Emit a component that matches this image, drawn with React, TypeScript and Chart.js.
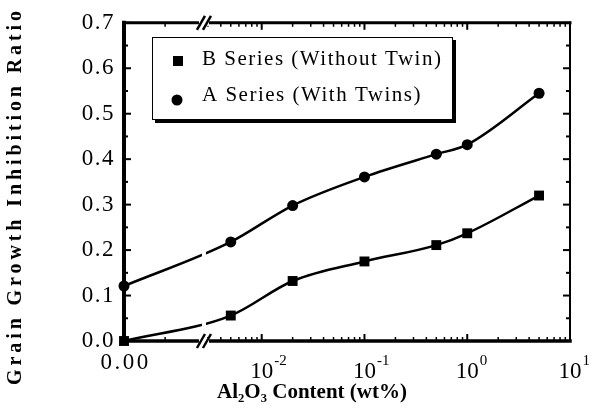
import React, { useEffect, useRef } from 'react';
import { Chart, registerables } from 'chart.js';

Chart.register(...registerables);

// ---- data ----
const CONTENT_WT = [0, 0.005, 0.02, 0.1, 0.5, 1, 5];
const SERIES_B = [0.0, 0.056, 0.132, 0.175, 0.211, 0.237, 0.32];
const SERIES_A = [0.121, 0.218, 0.298, 0.361, 0.411, 0.432, 0.545];
const SERIES_B_LABEL = 'B Series (Without Twin)';
const SERIES_A_LABEL = 'A Series (With Twins)';

// broken x axis: a "0.00" segment, then a log10 axis (positions in decades)
const ZERO_POS = -3.34;
const X_MAX_POS = 1;
const BREAK_POS = -2.562;
const ZERO_SEGMENT_MINOR = [-2.94];
const X_TICK_POS = [ZERO_POS, -2, -1, 0, 1];
const X_TICK_BASES = ['0.00', '10', '10', '10', '10'];
const X_TICK_EXPONENTS = ['', '-2', '-1', '0', '1'];
const LOG_DECADES = [-3, -2, -1, 0];

const Y_MIN = 0;
const Y_MAX = 0.7;
const Y_STEP = 0.1;

const X_TITLE = 'Al\u2082O\u2083 Content (wt%)';
const Y_TITLE = 'Grain Growth Inhibition Ratio';

const SERIF = "'Liberation Serif', 'Times New Roman', 'DejaVu Serif', serif";

const toPos = (wt: number) => (wt === 0 ? ZERO_POS : Math.log10(wt));

function line(ctx: any, x1: number, y1: number, x2: number, y2: number, w: number) {
  ctx.lineWidth = w;
  ctx.beginPath();
  ctx.moveTo(x1, y1);
  ctx.lineTo(x2, y2);
  ctx.stroke();
}

const axesPlugin = {
  id: 'paperAxes',
  beforeDraw(chart: any) {
    chart.ctx.letterSpacing = '1.5px';
  },
  beforeDatasetsDraw(chart: any) {
    const { ctx, chartArea, scales } = chart;
    const { left, right, top, bottom } = chartArea;
    ctx.save();
    ctx.letterSpacing = '0px';
    ctx.strokeStyle = '#000';
    ctx.lineCap = 'square';
    // frame
    line(ctx, left, top, left, bottom, 4);
    line(ctx, left, bottom, right, bottom, 3.5);
    line(ctx, left, top, right, top, 3);
    line(ctx, right, top, right, bottom, 2);
    ctx.lineCap = 'butt';
    // y ticks (both sides, inward)
    const yMajors = scales.y.ticks.map((t: any) => t.value);
    yMajors.forEach((v: number, i: number) => {
      const y = scales.y.getPixelForValue(v);
      line(ctx, left, y, left + 7, y, 2);
      line(ctx, right, y, right - 7, y, 2);
      if (i < yMajors.length - 1) {
        const ym = scales.y.getPixelForValue(v + Y_STEP / 2);
        line(ctx, left, ym, left + 4, ym, 2);
        line(ctx, right, ym, right - 4, ym, 2);
      }
    });
    // x ticks (top and bottom, inward)
    const xMajors = X_TICK_POS.slice(1);
    const xMinors: number[] = [...ZERO_SEGMENT_MINOR];
    LOG_DECADES.forEach((d) => {
      for (let k = 2; k <= 9; k++) {
        const p = d + Math.log10(k);
        if (p > BREAK_POS + 0.02 && p < X_MAX_POS) xMinors.push(p);
      }
    });
    xMajors.forEach((p) => {
      const x = scales.x.getPixelForValue(p);
      line(ctx, x, bottom, x, bottom - 7, 2);
      line(ctx, x, top, x, top + 7, 2);
    });
    xMinors.forEach((p) => {
      const x = scales.x.getPixelForValue(p);
      line(ctx, x, bottom, x, bottom - 4, 1.5);
      line(ctx, x, top, x, top + 4, 1.5);
    });
    ctx.restore();
  },
  afterDatasetsDraw(chart: any) {
    const { ctx, chartArea, scales } = chart;
    const { top, bottom } = chartArea;
    const bx = scales.x.getPixelForValue(BREAK_POS);
    ctx.save();
    ctx.letterSpacing = '0px';
    ctx.fillStyle = '#fff';
    // gap in the data lines at the break
    ctx.fillRect(bx - 2, top + 4, 4, bottom - top - 8);
    // gaps in the axes
    ctx.fillRect(bx - 5, top - 3, 10, 6);
    ctx.fillRect(bx - 5, bottom - 3, 10, 6);
    ctx.strokeStyle = '#000';
    [top, bottom].forEach((y0) => {
      [-3, 3].forEach((dx) => {
        line(ctx, bx + dx - 4, y0 + 7, bx + dx + 4, y0 - 7, 2.5);
      });
    });
    ctx.restore();
  },
  afterDraw(chart: any) {
    const { ctx, scales } = chart;
    ctx.save();
    ctx.fillStyle = '#000';
    ctx.strokeStyle = '#000';
    ctx.textBaseline = 'alphabetic';
    // x tick labels with real superscripts
    X_TICK_POS.forEach((p, i) => {
      const x = scales.x.getPixelForValue(p);
      const exp = X_TICK_EXPONENTS[i];
      if (!exp) {
        ctx.font = `23px ${SERIF}`;
        ctx.letterSpacing = '2.5px';
        ctx.textAlign = 'center';
        ctx.fillText(X_TICK_BASES[i], x + 1.5, 369);
      } else {
        ctx.font = `23px ${SERIF}`;
        ctx.letterSpacing = '0px';
        ctx.textAlign = 'center';
        ctx.fillText(X_TICK_BASES[i], x, 378);
        const w = ctx.measureText(X_TICK_BASES[i]).width;
        ctx.font = `15px ${SERIF}`;
        ctx.textAlign = 'left';
        ctx.fillText(exp, x + w / 2 + 1, 365);
      }
    });
    // legend box with shadow
    const bx = 152, by = 37, bw = 301, bh = 83;
    ctx.fillRect(bx + 3, by + 3, bw, bh);
    ctx.fillStyle = '#fff';
    ctx.fillRect(bx, by, bw, bh);
    ctx.lineWidth = 1;
    ctx.strokeRect(bx + 0.5, by + 0.5, bw - 1, bh - 1);
    ctx.fillStyle = '#000';
    ctx.fillRect(173, 56, 10, 10);
    ctx.beginPath();
    ctx.arc(177, 100, 5.5, 0, Math.PI * 2);
    ctx.fill();
    ctx.font = `21px ${SERIF}`;
    ctx.letterSpacing = '1.5px';
    ctx.textAlign = 'left';
    const ds = chart.data.datasets;
    ctx.fillText(ds[0].label, 202, 65);
    ctx.fillText(ds[1].label, 202, 101);
    // axis titles
    ctx.font = `bold 21px ${SERIF}`;
    ctx.letterSpacing = '0px';
    ctx.textAlign = 'center';
    ctx.fillText(X_TITLE, 312, 398);
    ctx.save();
    ctx.translate(21, 196);
    ctx.rotate(-Math.PI / 2);
    ctx.font = `bold 20px ${SERIF}`;
    ctx.letterSpacing = '3.9px';
    ctx.fillText(Y_TITLE, 0, 0);
    ctx.restore();
    ctx.restore();
  },
};

export default function App() {
  const ref = useRef<HTMLCanvasElement>(null);
  useEffect(() => {
    document.body.style.margin = '0';
    const pointsB = CONTENT_WT.map((w, i) => ({ x: toPos(w), y: SERIES_B[i] }));
    const pointsA = CONTENT_WT.map((w, i) => ({ x: toPos(w), y: SERIES_A[i] }));
    const chart = new Chart(ref.current as HTMLCanvasElement, {
      type: 'line',
      data: {
        datasets: [
          {
            label: SERIES_B_LABEL,
            data: pointsB,
            borderColor: '#000',
            backgroundColor: '#000',
            borderWidth: 2.5,
            pointStyle: 'rect',
            pointRadius: 7,
            pointBorderWidth: 0,
            pointBackgroundColor: '#000',
            cubicInterpolationMode: 'monotone',
            clip: false,
          },
          {
            label: SERIES_A_LABEL,
            data: pointsA,
            borderColor: '#000',
            backgroundColor: '#000',
            borderWidth: 2.5,
            pointStyle: 'circle',
            pointRadius: 5.5,
            pointBorderWidth: 0,
            pointBackgroundColor: '#000',
            cubicInterpolationMode: 'monotone',
            clip: false,
          },
        ],
      },
      options: {
        responsive: false,
        devicePixelRatio: 1,
        animation: false,
        layout: { padding: { top: 17, right: 22, left: 0, bottom: 0 } },
        plugins: { legend: { display: false }, tooltip: { enabled: false } },
        scales: {
          x: {
            type: 'linear',
            min: ZERO_POS,
            max: X_MAX_POS,
            afterBuildTicks: (s: any) => {
              s.ticks = X_TICK_POS.map((v) => ({ value: v }));
            },
            afterFit: (s: any) => {
              s.height = 73;
            },
            grid: { display: false, drawTicks: false },
            border: { display: false },
            ticks: { display: false },
          },
          y: {
            type: 'linear',
            min: Y_MIN,
            max: Y_MAX,
            afterFit: (s: any) => {
              s.width = 124;
            },
            grid: { display: false, drawTicks: false },
            border: { display: false },
            ticks: {
              stepSize: Y_STEP,
              padding: 9,
              color: '#000',
              font: { family: SERIF, size: 23 },
              callback: (v: any) => Number(v).toFixed(1),
            },
          },
        },
      },
      plugins: [axesPlugin],
    } as any);
    return () => chart.destroy();
  }, []);
  return (
    <div style={{ width: 592, height: 414 }}>
      <canvas ref={ref} width={592} height={414} style={{ display: 'block' }} />
    </div>
  );
}
